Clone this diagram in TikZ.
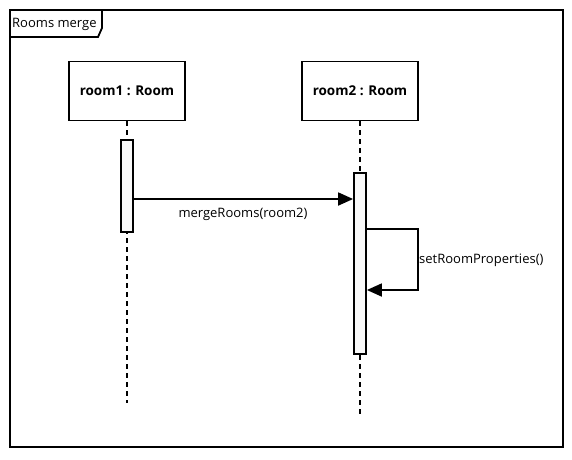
\documentclass[tikz,border=0pt]{standalone}
\usepackage{fontspec}
\setmainfont{Open Sans}
\usetikzlibrary{arrows.meta}
\tikzset{
  obj/.style={draw, line width=1.8pt, minimum width=116pt, minimum height=59pt, font=\fontsize{13.5}{16}\selectfont\bfseries, inner sep=0pt},
  life/.style={line width=1.8pt, dash pattern=on 5pt off 4pt},
  act/.style={draw, line width=1.8pt, fill=gray!5, minimum width=12pt, inner sep=0pt},
  msg/.style={line width=1.8pt, -{Triangle[length=15pt,width=13pt]}},
  lbl/.style={font=\fontsize{13}{15}\selectfont, inner sep=1pt},
}
\begin{document}
\begin{tikzpicture}[x=1pt,y=-1pt]
\useasboundingbox (0,0) rectangle (572,459);
% frame
\draw[line width=1.8pt] (10,10) rectangle (563,447);
\draw[line width=1.8pt] (10,37) -- (98,37) -- (102,28) -- (102,10);
\node[lbl, anchor=west] (title) at (11,24) {Rooms merge};
% objects
\node[obj] (r1) at (127,91) {room1 : Room};
\node[obj] (r2) at (360,91) {room2 : Room};
\coordinate (e1) at (127,403);
\coordinate (e2) at (360,415);
\draw[life] (r1.south) -- (e1);
\draw[life] (r2.south) -- (e2);
% activations
\node[act, minimum height=92pt, anchor=north] (a1) at (127,139) {};
\node[act, minimum height=181pt, anchor=north] (a2) at (360,172) {};
% message
\draw[msg] (a1.east |- 0,199) -- (a2.west |- 0,199) coordinate (m1end);
\node[lbl] (m1) at (243,214) {mergeRooms(room2)};
% self message
\coordinate (s1) at (418,229);
\coordinate (s2) at (418,290);
\draw[msg] (a2.east |- s1) -- (s1) -- (s2) -- (a2.east |- s2);
\node[lbl, anchor=west] (m2) at (418,260) {setRoomProperties()};
\end{tikzpicture}
\end{document}
